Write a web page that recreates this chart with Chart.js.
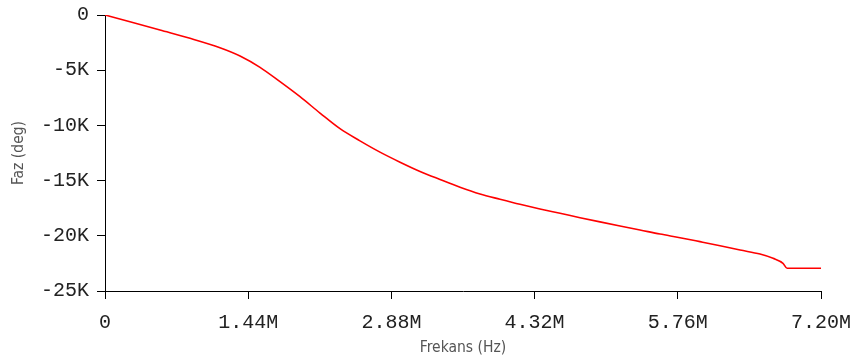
<!DOCTYPE html>
<html>
<head>
<meta charset="utf-8">
<script src="https://cdn.jsdelivr.net/npm/chart.js@4/dist/chart.umd.min.js"></script>
<style>
  html, body { margin: 0; padding: 0; background: #ffffff; }
  #wrap { width: 861px; height: 363px; }
</style>
</head>
<body>
<div id="wrap"><canvas id="phase" width="861" height="363"></canvas></div>
<script>
// Phase response: frequency in Hz, phase in degrees
const frequencyHz = [
  0, 251000, 553000, 855000, 1156000, 1358000, 1559000, 1760000, 1961000,
  2162000, 2363000, 2564000, 2765000, 2967000, 3168000, 3369000, 3570000,
  3771000, 3972000, 4173000, 4374000, 4576000, 4777000, 4978000, 5179000,
  5380000, 5581000, 5782000, 5983000, 6185000, 6386000, 6587000, 6718000,
  6818000, 6859000, 7200000
];
const phaseDeg = [
  0, -610, -1360, -2110, -2960, -3710, -4740, -6040, -7400,
  -8880, -10300, -11400, -12420, -13330, -14170, -14900, -15600,
  -16210, -16690, -17150, -17570, -17960, -18360, -18740, -19110,
  -19470, -19840, -20170, -20530, -20900, -21290, -21650, -22040,
  -22490, -22940, -22940
];

const xTickValues = [0, 1440000, 2880000, 4320000, 5760000, 7200000];
const xTickLabels = ['0', '1.44M', '2.88M', '4.32M', '5.76M', '7.20M'];
const yTickValues = [-25000, -20000, -15000, -10000, -5000, 0];
const yTickLabels = ['-25K', '-20K', '-15K', '-10K', '-5K', '0'];

const points = frequencyHz.map((f, i) => ({ x: f, y: phaseDeg[i] }));

const tickFont = { family: '"Liberation Mono", "Courier New", monospace', size: 20 };
const titleFont = { family: 'Tahoma, "DejaVu Sans Condensed", "Liberation Sans", sans-serif', size: 15.5 };

// let the layout padding alone decide the plot edges
const noLabelOverhang = (scale) => {
  scale.paddingTop = 0; scale.paddingBottom = 0;
  scale.paddingLeft = 0; scale.paddingRight = 0;
};

new Chart(document.getElementById('phase'), {
  type: 'line',
  data: {
    datasets: [{
      data: points,
      borderColor: '#ff0000',
      borderWidth: 1.6,
      pointRadius: 0,
      cubicInterpolationMode: 'monotone',
      fill: false
    }]
  },
  options: {
    responsive: false,
    animation: false,
    layout: { padding: { top: 15, right: 40, left: 0, bottom: 0 } },
    plugins: { legend: { display: false }, tooltip: { enabled: false } },
    scales: {
      x: {
        type: 'linear',
        min: 0,
        max: 7200000,
        afterBuildTicks: (scale) => { scale.ticks = xTickValues.map(v => ({ value: v })); },
        afterFit: (scale) => { scale.height = 72; noLabelOverhang(scale); },
        ticks: {
          font: tickFont,
          color: '#222',
          padding: 12,
          maxRotation: 0,
          autoSkip: false,
          callback: (v) => xTickLabels[xTickValues.indexOf(v)]
        },
        grid: { drawOnChartArea: false, drawTicks: true, tickLength: 8, color: '#000' },
        border: { display: true, color: '#000', width: 1 },
        title: { display: true, text: 'Frekans (Hz)', font: titleFont, color: '#555', padding: { top: 0, bottom: 6 } }
      },
      y: {
        type: 'linear',
        min: -25000,
        max: 0,
        afterBuildTicks: (scale) => { scale.ticks = yTickValues.map(v => ({ value: v })); },
        afterFit: (scale) => { scale.width = 105; noLabelOverhang(scale); },
        ticks: {
          font: tickFont,
          color: '#222',
          padding: 8,
          autoSkip: false,
          callback: (v) => yTickLabels[yTickValues.indexOf(v)]
        },
        grid: { drawOnChartArea: false, drawTicks: true, tickLength: 8, color: '#000' },
        border: { display: true, color: '#000', width: 1 },
        title: { display: true, text: 'Faz (deg)', font: titleFont, color: '#555', padding: { top: 10, bottom: 0 } }
      }
    }
  }
});
</script>
</body>
</html>
